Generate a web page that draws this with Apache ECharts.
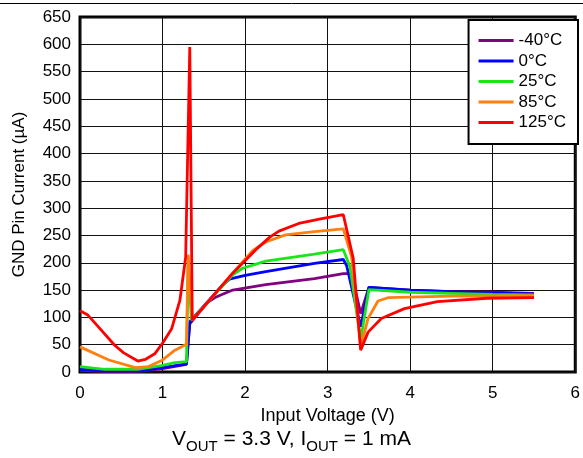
<!DOCTYPE html>
<html>
<head>
<meta charset="utf-8">
<script src="https://cdn.jsdelivr.net/npm/echarts@6/dist/echarts.min.js"></script>
<style>
html,body{margin:0;padding:0;background:#fff;}
#c{width:583px;height:458px;}
</style>
</head>
<body>
<div id="c"></div>
<script>
// ---- data ----
const seriesNames = ['-40°C', '0°C', '25°C', '85°C', '125°C'];

const xM40 = [0, 0.3, 0.7, 1.0, 1.29, 1.33, 1.55, 1.63, 1.72, 1.85, 2.25, 2.84, 3.19, 3.27, 3.31, 3.4, 3.5, 4.0, 4.5, 5.0, 5.5];
const yM40 = [3, 1, 1, 6, 14, 88, 128, 136, 142, 150, 160, 171, 180, 180, 168, 107, 155, 150, 147, 146, 144];

const x0 = [0, 0.3, 0.7, 1.0, 1.29, 1.33, 1.72, 1.81, 2.0, 2.25, 2.84, 3.19, 3.23, 3.4, 3.5, 4.0, 4.5, 5.0, 5.5];
const y0 = [5, 2, 2, 8, 15, 92, 158, 170, 177, 184, 199, 206, 195, 83, 155, 150, 147, 145, 143];

const x25 = [0, 0.3, 0.7, 1.0, 1.15, 1.29, 1.31, 1.35, 1.85, 1.97, 2.25, 2.84, 3.19, 3.27, 3.4, 3.5, 4.0, 4.5, 5.0, 5.5];
const y25 = [10, 5, 5, 12, 17, 19, 195, 95, 178, 190, 203, 216, 224, 193, 58, 151, 146, 144, 142, 141];

const x85 = [0, 0.35, 0.67, 0.83, 0.99, 1.15, 1.29, 1.31, 1.36, 1.85, 2.09, 2.25, 2.49, 2.84, 3.19, 3.29, 3.4, 3.49, 3.61, 3.73, 4.5, 5.5];
const y85 = [46, 22, 8, 10, 21, 40, 51, 215, 95, 181, 222, 238, 251, 257, 262, 211, 46, 98, 130, 136, 139, 140];

const x125 = [0, 0.09, 0.18, 0.42, 0.53, 0.70, 0.79, 0.91, 1.01, 1.11, 1.21, 1.28, 1.33, 1.36, 1.85, 2.13, 2.3, 2.41, 2.65, 2.9, 3.19, 3.31, 3.40, 3.49, 3.65, 3.93, 4.33, 4.93, 5.5];
const y125 = [112, 105, 90, 49, 35, 20, 23, 34, 55, 79, 131, 210, 595, 95, 181, 224, 247, 258, 272, 280, 288, 208, 40, 73, 98, 116, 129, 135, 136];

const xTicks = [0, 1, 2, 3, 4, 5, 6];
const yTicks = [0, 50, 100, 150, 200, 250, 300, 350, 400, 450, 500, 550, 600, 650];

const colors = ['#800080', '#0000FF', '#19E619', '#FF7F0F', '#FF0000'];
const xs = [xM40, x0, x25, x85, x125];
const ys = [yM40, y0, y25, y85, y125];

const FONT = 'Liberation Sans, Arial, sans-serif';

const chart = echarts.init(document.getElementById('c'), null, {renderer: 'canvas'});

const series = seriesNames.map((n, i) => ({
  name: n,
  type: 'line',
  showSymbol: false,
  symbol: 'none',
  data: xs[i].map((x, j) => [x, ys[i][j]]),
  lineStyle: {color: colors[i], width: 2.8},
  itemStyle: {color: colors[i]},
  z: 3 + i,
  animation: false
}));

chart.setOption({
  animation: false,
  backgroundColor: '#fff',
  color: colors,
  textStyle: {fontFamily: FONT, color: '#000'},
  grid: {left: 80, right: 4, top: 17, bottom: 86, show: true, borderColor: '#000', borderWidth: 3, backgroundColor: 'transparent'},
  legend: {
    data: seriesNames,
    orient: 'vertical',
    right: 5,
    top: 20,
    icon: 'rect',
    itemWidth: 35,
    itemHeight: 3,
    itemGap: 3.5,
    padding: [12, 12, 13, 10],
    backgroundColor: '#fff',
    borderColor: '#000',
    borderWidth: 2,
    borderRadius: 0,
    textStyle: {fontSize: 17, color: '#000', fontFamily: FONT, lineHeight: 17}
  },
  xAxis: {
    type: 'value',
    min: xTicks[0],
    max: xTicks[xTicks.length - 1],
    interval: 1,
    name: 'Input Voltage (V)',
    nameLocation: 'middle',
    nameGap: 32,
    nameTextStyle: {fontSize: 18, color: '#000', fontFamily: FONT},
    axisLine: {show: false},
    axisTick: {show: false},
    axisLabel: {fontSize: 17, color: '#000', margin: 13, fontFamily: FONT},
    splitLine: {show: true, lineStyle: {color: '#111', width: 1}}
  },
  yAxis: {
    type: 'value',
    min: yTicks[0],
    max: yTicks[yTicks.length - 1],
    interval: 50,
    name: 'GND Pin Current (µA)',
    nameLocation: 'middle',
    nameGap: 52,
    nameTextStyle: {fontSize: 17, color: '#000', fontFamily: FONT},
    axisLine: {show: false},
    axisTick: {show: false},
    axisLabel: {fontSize: 17, color: '#000', margin: 9, fontFamily: FONT},
    splitLine: {show: true, lineStyle: {color: '#111', width: 1}}
  },
  graphic: [
    {type: 'line', shape: {x1: 0, y1: 3.5, x2: 583, y2: 3.5}, style: {stroke: '#000', lineWidth: 1}},
    {
      type: 'text',
      left: 'center',
      top: 429,
      style: {
        text: '{m|V}{s|OUT}{m| = 3.3 V, I}{s|OUT}{m| = 1 mA}',
        fontFamily: FONT,
        rich: {
          m: {fontSize: 21, fontFamily: FONT, fill: '#000', lineHeight: 24, verticalAlign: 'bottom'},
          s: {fontSize: 15, fontFamily: FONT, fill: '#000', lineHeight: 15, verticalAlign: 'bottom', padding: [0, 0, -4, 0]}
        }
      }
    }
  ],
  series: series
});
</script>
</body>
</html>
